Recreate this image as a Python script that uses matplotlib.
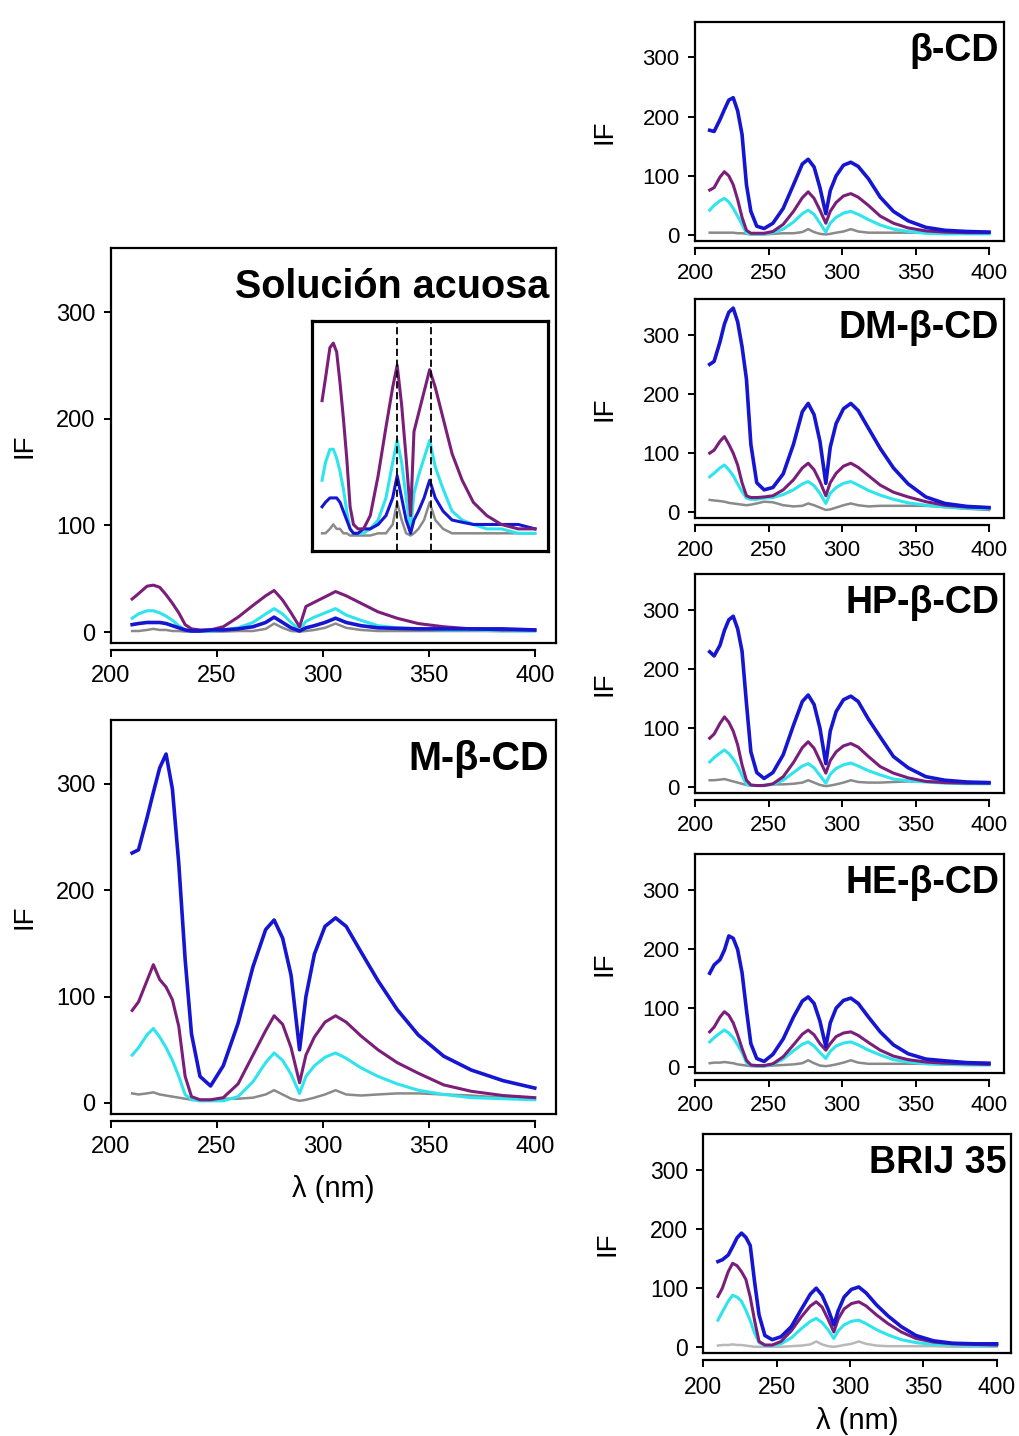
import matplotlib
matplotlib.use("Agg")
import matplotlib.pyplot as plt

plt.rcParams['font.family'] = ['Liberation Sans', 'DejaVu Sans']

wl = [210, 213, 217, 220, 223, 226, 229, 232, 235, 238, 242, 247, 253, 260, 267, 273, 277,
      281, 285, 289, 292, 296, 301, 306, 311, 318, 326, 335, 345, 357, 370, 385, 400]

# Solucion acuosa
acu_blue = [7, 8, 9, 9, 9, 8, 6, 4, 2, 1, 1, 2, 2, 3, 5, 9, 14, 9, 4, 1, 4, 6, 9, 13, 9, 6, 4, 3.5, 3, 3, 3, 3, 2]
acu_purple = [31, 36, 43, 44, 42, 35, 27, 18, 7, 3, 2, 2, 5, 14, 25, 34, 39, 30, 18, 5, 24, 28, 33, 38, 34, 27, 19, 13, 8, 5, 3, 2, 2]
acu_cyan = [13, 17, 20, 20, 18, 15, 11, 6, 2, 1, 1, 1, 2, 4, 9, 17, 22, 17, 9, 2, 10, 14, 18, 22, 16, 11, 6, 4, 3, 2, 2, 1, 1]
acu_gray = [1, 1, 2, 3, 2, 2, 1, 1, 0.5, 0.5, 0.5, 0.5, 0.5, 1, 1, 3, 8, 4, 1, 0.5, 1, 2, 4, 8, 4, 2, 1, 1, 1, 1, 1, 1, 1]

# M-b-CD
m_blue = [235, 238, 268, 292, 315, 328, 295, 225, 135, 65, 25, 16, 35, 75, 128, 163, 172, 155, 120, 50, 100, 140, 166, 174, 166, 142, 115, 88, 64, 44, 31, 21, 14]
m_purple = [87, 95, 115, 130, 116, 109, 97, 72, 25, 6, 3, 3, 5, 18, 45, 68, 82, 74, 52, 19, 45, 62, 76, 82, 76, 63, 50, 38, 28, 17, 11, 7, 5]
m_cyan = [45, 52, 64, 70, 62, 52, 40, 25, 8, 3, 2, 2, 2, 6, 20, 38, 47, 40, 27, 9, 25, 35, 43, 47, 42, 33, 25, 18, 12, 8, 5, 4, 3]
m_gray = [9, 8, 9, 10, 8, 7, 6, 5, 4, 3, 3, 3, 4, 4, 5, 8, 12, 8, 4, 2, 3, 5, 8, 12, 8, 7, 8, 9, 9, 8, 7, 5, 4]

# b-CD
b_blue = [177, 175, 195, 212, 228, 232, 210, 170, 85, 40, 15, 11, 20, 45, 85, 120, 128, 115, 80, 36, 75, 100, 118, 123, 116, 95, 64, 40, 24, 13, 8, 6, 5]
b_purple = [76, 80, 98, 107, 100, 85, 60, 30, 8, 3, 3, 3, 6, 18, 40, 63, 73, 62, 42, 20, 40, 55, 66, 70, 64, 50, 32, 20, 12, 7, 5, 4, 4]
b_cyan = [42, 50, 58, 62, 56, 45, 32, 18, 3, 2, 2, 2, 4, 10, 22, 36, 42, 35, 20, 5, 20, 30, 37, 40, 35, 26, 17, 10, 6, 3, 2, 2, 2]
b_gray = [4, 4, 4, 4, 4, 4, 3, 3, 2, 1, 1, 1, 2, 3, 3, 5, 10, 5, 2, 1, 2, 4, 6, 10, 6, 4, 4, 4, 4, 4, 4, 4, 4]

# DM-b-CD
dm_blue = [250, 255, 288, 318, 338, 345, 322, 280, 225, 115, 50, 38, 42, 65, 115, 170, 184, 165, 120, 49, 110, 150, 175, 184, 172, 142, 108, 75, 48, 26, 15, 10, 8]
dm_purple = [100, 105, 120, 128, 115, 100, 80, 50, 28, 25, 25, 26, 28, 38, 55, 75, 83, 72, 52, 28, 50, 66, 78, 83, 76, 62, 46, 34, 26, 18, 12, 9, 8]
dm_cyan = [60, 66, 75, 80, 72, 62, 48, 35, 24, 22, 22, 24, 25, 30, 38, 48, 52, 45, 32, 15, 32, 42, 49, 52, 46, 37, 29, 22, 16, 12, 9, 7, 6]
dm_gray = [21, 20, 19, 18, 16, 15, 14, 13, 12, 13, 15, 18, 17, 12, 10, 11, 15, 12, 8, 4, 5, 8, 12, 15, 12, 10, 11, 11, 11, 11, 9, 6, 4]

# HP-b-CD
hp_blue = [229, 222, 240, 265, 283, 289, 268, 230, 142, 60, 25, 15, 25, 55, 105, 145, 156, 140, 100, 40, 95, 128, 148, 154, 145, 115, 85, 52, 33, 18, 12, 9, 8]
hp_purple = [83, 90, 108, 119, 110, 95, 72, 38, 12, 4, 3, 3, 6, 18, 42, 67, 77, 66, 45, 24, 45, 60, 70, 74, 68, 52, 35, 24, 16, 10, 8, 7, 7]
hp_cyan = [43, 50, 58, 63, 57, 48, 36, 20, 5, 3, 3, 3, 5, 12, 25, 36, 40, 33, 20, 7, 22, 32, 38, 41, 36, 28, 21, 14, 11, 9, 7, 6, 6]
hp_gray = [12, 12, 13, 14, 12, 10, 8, 6, 4, 3, 3, 4, 5, 5, 6, 8, 12, 8, 4, 2, 3, 5, 8, 12, 9, 8, 8, 9, 10, 10, 9, 8, 7]

# HE-b-CD
he_blue = [159, 173, 182, 198, 222, 218, 199, 160, 97, 40, 15, 10, 22, 48, 85, 112, 119, 108, 78, 35, 75, 100, 113, 117, 108, 85, 60, 38, 23, 14, 11, 8, 7]
he_purple = [60, 68, 85, 94, 88, 75, 55, 32, 12, 4, 3, 3, 6, 18, 38, 56, 63, 55, 40, 29, 40, 52, 58, 60, 54, 42, 29, 19, 13, 9, 7, 6, 5]
he_cyan = [43, 50, 58, 63, 58, 50, 38, 25, 8, 3, 2, 2, 5, 14, 28, 39, 43, 36, 25, 15, 27, 36, 41, 43, 38, 29, 21, 13, 9, 6, 5, 4, 4]
he_gray = [7, 8, 8, 9, 8, 7, 5, 4, 3, 2, 2, 2, 3, 4, 5, 7, 12, 7, 3, 2, 3, 5, 8, 12, 8, 6, 6, 6, 6, 6, 5, 5, 5]

# BRIJ 35
br_blue = [145, 148, 156, 170, 185, 193, 186, 172, 110, 55, 20, 13, 18, 35, 65, 90, 100, 88, 65, 38, 62, 85, 98, 102, 92, 72, 53, 35, 20, 11, 7, 6, 6]
br_purple = [86, 100, 128, 142, 138, 128, 115, 85, 45, 10, 4, 4, 10, 28, 52, 70, 77, 68, 48, 26, 48, 65, 74, 77, 70, 55, 40, 26, 15, 9, 6, 5, 4]
br_cyan = [46, 60, 78, 88, 85, 78, 63, 45, 24, 8, 3, 3, 6, 16, 32, 44, 49, 42, 30, 15, 28, 38, 44, 46, 40, 30, 21, 13, 8, 5, 4, 3, 3]
br_gray = [3, 4, 4, 5, 4, 4, 3, 2, 1, 1, 1, 1, 1, 2, 3, 5, 10, 5, 2, 1, 2, 4, 6, 10, 6, 3, 2, 2, 2, 2, 1, 1, 1]

peaks_nm = [277, 307]
xticks = [200, 250, 300, 350, 400]
yticks = [0, 100, 200, 300]

BLUE = '#1515d2'
PURPLE = '#7a1e7a'
CYAN = '#2fe4ec'
GRAY = '#8a8a8a'


def panel(rect, title, gray, cyan, purple, blue, tsize=16, title_size=27,
          ylab_x=-0.18, gray_col=GRAY, lw=2.2):
    ax = fig.add_axes(rect)
    ax.plot(wl, gray, color=gray_col, lw=1.8)
    ax.plot(wl, cyan, color=CYAN, lw=lw)
    ax.plot(wl, purple, color=PURPLE, lw=lw)
    ax.plot(wl, blue, color=BLUE, lw=lw + 0.4)
    ax.set_xlim(200, 410)
    ax.set_ylim(-10, 360)
    ax.set_xticks(xticks)
    ax.set_yticks(yticks)
    for s in ['top', 'right', 'left']:
        ax.spines[s].set_linewidth(1.6)
    # detached x axis below the box
    ax.spines['bottom'].set_position(('outward', 5))
    ax.spines['bottom'].set_bounds(200, 400)
    ax.spines['bottom'].set_linewidth(1.6)
    ax.plot([0, 1], [0, 0], transform=ax.transAxes, color='k', lw=1.6, clip_on=False)
    ax.tick_params(direction='out', length=5, width=1.4, labelsize=tsize, pad=6)
    ax.set_ylabel('IF', fontsize=20)
    ax.yaxis.set_label_coords(ylab_x, 0.5)
    ax.text(0.985, 0.95, title, transform=ax.transAxes, ha='right', va='top',
            fontsize=title_size, fontweight='bold')
    return ax


fig = plt.figure(figsize=(10.19, 14.36), dpi=100)

ax_a = panel([0.1089, 0.5524, 0.4367, 0.2749], 'Solución acuosa',
             acu_gray, acu_cyan, acu_purple, acu_blue, tsize=17, title_size=28.5, ylab_x=-0.165)
ax_m = panel([0.1089, 0.2245, 0.4367, 0.2741], 'M-β-CD',
             m_gray, m_cyan, m_purple, m_blue, tsize=17, title_size=28.5, ylab_x=-0.165)
ax_m.set_xlabel('λ (nm)', fontsize=21)
ax_m.xaxis.set_label_coords(0.5, -0.155)

right_left = 695 / 1019
right_w = 308.7 / 1019
right_h = 219 / 1436
panel([right_left, 0.8322, right_w, right_h], 'β-CD', b_gray, b_cyan, b_purple, b_blue,
      tsize=16, ylab_x=-0.25)
panel([right_left, 0.6391, right_w, right_h], 'DM-β-CD', dm_gray, dm_cyan, dm_purple, dm_blue,
      tsize=16, ylab_x=-0.25)
panel([right_left, 0.4476, right_w, right_h], 'HP-β-CD', hp_gray, hp_cyan, hp_purple, hp_blue,
      tsize=16, ylab_x=-0.25)
panel([right_left, 0.2526, right_w, right_h], 'HE-β-CD', he_gray, he_cyan, he_purple, he_blue,
      tsize=16, ylab_x=-0.25)
ax_br = panel([703.3 / 1019, 0.0576, 308 / 1019, right_h], 'BRIJ 35', br_gray, br_cyan, br_purple, br_blue,
              tsize=16.5, ylab_x=-0.27, gray_col='#b8b8b8')
ax_br.set_xlabel('λ (nm)', fontsize=21)
ax_br.xaxis.set_label_coords(0.5, -0.245)

# inset: zoom of the aqueous solution spectra
ins = fig.add_axes([312 / 1019, 1 - 551 / 1436, 236 / 1019, 230 / 1436])
ins.plot(wl, acu_gray, color=GRAY, lw=1.8)
ins.plot(wl, acu_cyan, color=CYAN, lw=2.2)
ins.plot(wl, acu_blue, color=BLUE, lw=2.2)
ins.plot(wl, acu_purple, color=PURPLE, lw=2.2)
for p in peaks_nm:
    ins.axvline(p, color='k', ls='--', lw=1.3, dashes=(4, 2))
ins.set_xlim(201, 411.6)
ins.set_ylim(-3, 49)
ins.set_xticks([])
ins.set_yticks([])
for s in ins.spines.values():
    s.set_linewidth(2.3)

fig.savefig('out.png', dpi=100)
